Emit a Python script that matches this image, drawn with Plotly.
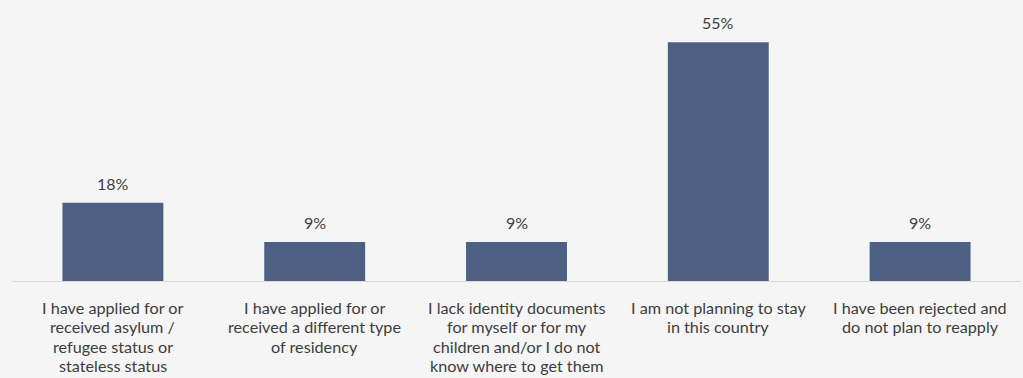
import plotly.graph_objects as go

category_lines = [
    ["I have applied for or", "received asylum /", "refugee status or", "stateless status"],
    ["I have applied for or", "received a different type", "of residency"],
    ["I lack identity documents", "for myself or for my", "children and/or I do not", "know where to get them"],
    ["I am not planning to stay", "in this country"],
    ["I have been rejected and", "do not plan to reapply"],
]
values = [18, 9, 9, 55, 9]
labels = [f"{v}%" for v in values]

TEXT = "#3d3d3d"
fig = go.Figure()
fig.add_trace(go.Bar(
    x=list(range(len(values))), y=values,
    marker=dict(color="#4d6084", line=dict(width=0)),
    width=0.5,
    hoverinfo="skip",
))
for i, (v, t) in enumerate(zip(values, labels)):
    fig.add_annotation(x=i, y=v, text=t, showarrow=False, yanchor="bottom",
                       yshift=8, font=dict(family="Lato", size=16, color=TEXT))
for i, lines in enumerate(category_lines):
    for k, line in enumerate(lines):
        fig.add_annotation(x=i, y=0, text=line, showarrow=False, yanchor="middle",
                           xanchor="center", yshift=-26 - 19.5 * k,
                           borderpad=0,
                           font=dict(family="Lato", size=16.2, color=TEXT))

fig.update_layout(
    width=1023, height=378,
    margin=dict(l=12, r=2, t=10, b=97),
    paper_bgcolor="#f5f5f5", plot_bgcolor="#f5f5f5",
    showlegend=False,
    xaxis=dict(
        range=[-0.5, 4.5], showline=True, linecolor="#d9d9d9", linewidth=1,
        showgrid=False, zeroline=False, ticks="", showticklabels=False,
    ),
    yaxis=dict(range=[0, 62.4], visible=False, showgrid=False, zeroline=False),
)

fig.write_html("out.html", config={"displayModeBar": False},
               post_script="document.body.style.margin='0';document.body.style.background='#f5f5f5';")
